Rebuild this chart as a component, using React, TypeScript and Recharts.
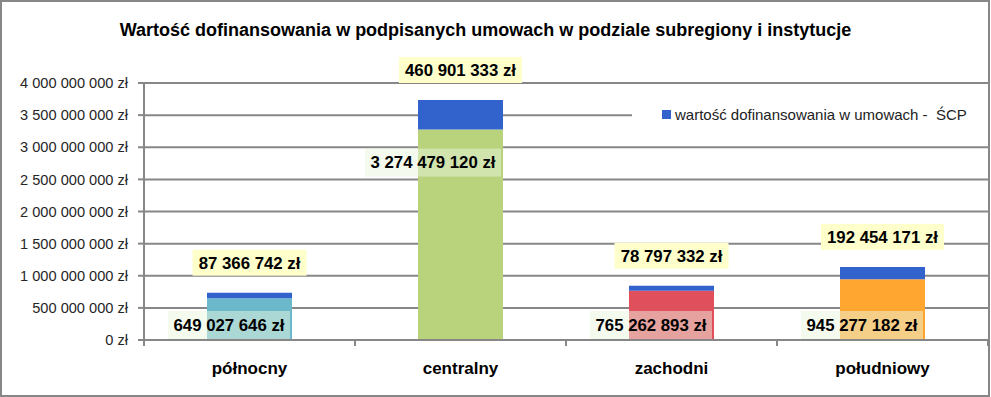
import { BarChart, Bar, XAxis, YAxis, CartesianGrid, Cell, LabelList } from 'recharts'

const categories = ['północny', 'centralny', 'zachodni', 'południowy']
const regionValues = [649027646, 3274479120, 765262893, 945277182]
const scpValues = [87366742, 460901333, 78797332, 192454171]
const regionColors = ['#6BB8CB', '#B9D27C', '#DF4F5C', '#FFA631']
const yTicks = [0, 500000000, 1000000000, 1500000000, 2000000000, 2500000000, 3000000000, 3500000000, 4000000000]

const scpName = 'wartość dofinansowania w umowach -  ŚCP'
const title = 'Wartość dofinansowania w podpisanych umowach w podziale subregiony i instytucje'

const data = categories.map((name, i) => ({ name, region: regionValues[i], scp: scpValues[i] }))

const W = 991
const H = 397
const xAxisHeight = 30
const margin = { top: 83, right: 3, bottom: 57 - xAxisHeight, left: 0 }
const yAxisWidth = 144
const band = (W - margin.right - yAxisWidth) / categories.length
const font = '"Liberation Sans", Arial, sans-serif'
const gray = '#878787'

const fmt = (v: number) => String(Math.round(v)).replace(/\B(?=(\d{3})+(?!\d))/g, ' ') + ' zł'

const XTick = (props: any) => {
  const { x, y, payload, index } = props
  const axisY = y - 20
  return (
    <g>
      <line x1={x - band / 2} x2={x - band / 2} y1={axisY} y2={axisY + 6} stroke={gray} strokeWidth={2} />
      {index === categories.length - 1 && (
        <line x1={x + band / 2} x2={x + band / 2} y1={axisY} y2={axisY + 6} stroke={gray} strokeWidth={2} />
      )}
      <text x={x} y={y} dy="0.8em" textAnchor="middle" fontFamily={font} fontWeight="bold" fontSize={17} fill="#000">
        {payload.value}
      </text>
    </g>
  )
}

const RegionLabel = (props: any) => {
  const { x, y, width, height, value } = props
  const s = fmt(value)
  const bw = s.length * 7 + 24
  const right = x + width - 2
  const cy = height > 100 ? y + 33 : y + height - 15
  return (
    <g>
      <rect x={right - bw} y={cy - 14} width={bw} height={28} fill="#EBF6E0" fillOpacity={0.5} />
      <text x={right - bw / 2} y={cy} dy="0.35em" textAnchor="middle" fontFamily={font} fontWeight="bold" fontSize={16.8} fill="#000">
        {s}
      </text>
    </g>
  )
}

const ScpLabel = (props: any) => {
  const { x, y, width, value } = props
  const s = fmt(value)
  const bw = s.length * 9 - 3
  const cx = x + width / 2
  const cy = y - 30
  return (
    <g>
      <rect x={cx - bw / 2} y={cy - 13} width={bw} height={26} fill="#FFFFCC" />
      <text x={cx} y={cy} dy="0.35em" textAnchor="middle" fontFamily={font} fontWeight="bold" fontSize={16.8} fill="#000">
        {s}
      </text>
    </g>
  )
}

export default function App() {
  return (
    <div style={{ position: 'absolute', left: 0, top: 0, width: W, height: H, background: '#fff' }}>
      <BarChart width={W} height={H} data={data} margin={margin} barSize={85}>
        <CartesianGrid vertical={false} stroke={gray} strokeWidth={2} />
        <YAxis
          width={yAxisWidth}
          domain={[0, 4000000000]}
          ticks={yTicks}
          tickFormatter={fmt}
          axisLine={{ stroke: gray, strokeWidth: 2 }}
          tickLine={{ stroke: gray, strokeWidth: 2 }}
          tickSize={6}
          tickMargin={10}
          tick={{ fontFamily: font, fontSize: 14.6, fill: '#262626' }}
        />
        <XAxis
          dataKey="name"
          height={xAxisHeight}
          axisLine={{ stroke: gray, strokeWidth: 2 }}
          tickLine={false}
          tickSize={6}
          tickMargin={14}
          tick={<XTick />}
          interval={0}
        />
        <Bar dataKey="region" stackId="a" isAnimationActive={false}>
          {data.map((d, i) => <Cell key={d.name} fill={regionColors[i]} />)}
          <LabelList dataKey="region" content={<RegionLabel />} />
        </Bar>
        <Bar dataKey="scp" name={scpName} stackId="a" fill="#3262CC" isAnimationActive={false}>
          <LabelList dataKey="scp" content={<ScpLabel />} />
        </Bar>
      </BarChart>
      <div style={{ position: 'absolute', left: 632, top: 92, width: 356, height: 44, background: '#fff', display: 'flex', alignItems: 'center', paddingLeft: 30, boxSizing: 'border-box', fontFamily: font, fontSize: 15, color: '#222' }}>
        <span style={{ display: 'inline-block', width: 9, height: 9, background: '#3262CC', marginRight: 4 }} />
        <span style={{ whiteSpace: 'pre' }}>{scpName}</span>
      </div>
      <div style={{ position: 'absolute', left: 0, top: 20, width: 971, textAlign: 'center', fontFamily: font, fontWeight: 'bold', fontSize: 18, color: '#000' }}>
        {title}
      </div>
      <div style={{ position: 'absolute', left: 0, top: 0, width: 990, height: 397, border: `2px solid ${gray}`, boxSizing: 'border-box', pointerEvents: 'none' }} />
    </div>
  )
}
